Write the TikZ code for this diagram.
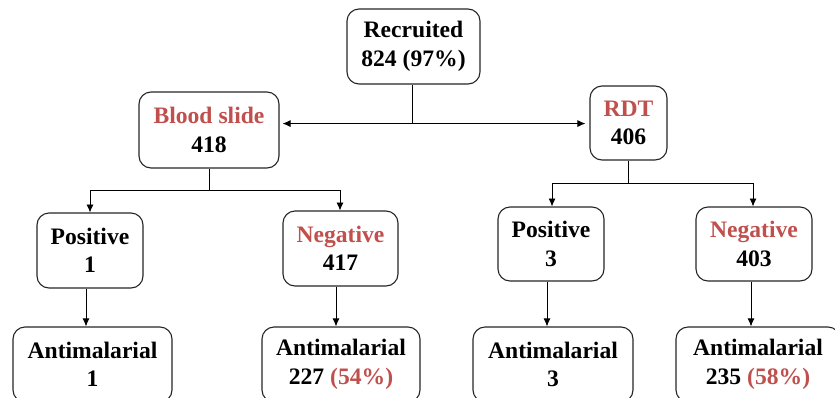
\documentclass[tikz,border=0pt]{standalone}
\usepackage{fontspec}
\setmainfont{Liberation Serif}
\usetikzlibrary{arrows.meta,calc}
\definecolor{accred}{RGB}{192,80,77}
\tikzset{
  box/.style={draw=black!85, line width=1.1pt, rounded corners=12pt, align=center,
    inner sep=0pt, font=\fontsize{23.6}{28.5}\selectfont\bfseries, fill=white},
  conn/.style={draw=black, line width=0.9pt},
  arr/.style={conn, -{Latex[length=8pt,width=7pt]}},
}
\begin{document}
\begin{tikzpicture}[x=1pt,y=-1pt]
\useasboundingbox (0,0) rectangle (835,397);
\clip (0,0) rectangle (835,397);
\node[box, minimum width=133pt, minimum height=75pt] (rec) at (413.5,46.5) {Recruited\\824 (97\%)};
\node[box, minimum width=140pt, minimum height=76pt] (bs) at (209,130) {\textcolor{accred}{Blood slide}\\418};
\node[box, minimum width=77pt, minimum height=74pt] (rdt) at (628.5,123) {\textcolor{accred}{RDT}\\406};
\node[box, minimum width=106pt, minimum height=75pt] (pos1) at (90,250.5) {Positive\\1};
\node[box, minimum width=115pt, minimum height=75pt] (neg1) at (340.5,248.5) {\textcolor{accred}{Negative}\\417};
\node[box, minimum width=106pt, minimum height=74pt] (pos2) at (551,244) {Positive\\3};
\node[box, minimum width=116pt, minimum height=74pt] (neg2) at (754,244) {\textcolor{accred}{Negative}\\403};
\node[box, minimum width=159pt, minimum height=75pt] (am1) at (92.5,364.5) {Antimalarial\\1};
\node[box, minimum width=158pt, minimum height=75pt] (am2) at (341,364.5) {Antimalarial\\227 \textcolor{accred}{(54\%)}};
\node[box, minimum width=160pt, minimum height=75pt] (am3) at (553,364.5) {Antimalarial\\3};
\node[box, minimum width=164pt, minimum height=75pt] (am4) at (758,364.5) {Antimalarial\\235 \textcolor{accred}{(58\%)}};
% top split
\coordinate (j0) at ($(rec.south)+(-1.5,39)$);
\draw[conn] ([xshift=-1.5pt]rec.south) -- (j0);
\draw[arr, shorten >=3pt] (j0) -- (j0 -| bs.east);
\draw[arr, shorten >=4pt] (j0) -- (j0 -| rdt.west);
% blood slide split
\coordinate (j1) at (209,190);
\draw[conn] (bs.south) -- (j1);
\draw[conn] (90,190) -- (340,190);
\draw[arr] (90,190) -- (90,212.5);
\draw[arr] (340,190) -- (340,210.5);
% rdt split
\coordinate (j2) at (628,183);
\draw[conn] (rdt.south -| j2) -- (j2);
\draw[conn] (552,183) -- (753,183);
\draw[arr] (552,183) -- (552,206.5);
\draw[arr] (753,183) -- (753,206.5);
% to antimalarial
\draw[arr] (pos1.south -| 86,0) -- (am1.north -| 86,0);
\draw[arr] (neg1.south -| 336,0) -- (am2.north -| 336,0);
\draw[arr] (pos2.south -| 547,0) -- (am3.north -| 547,0);
\draw[arr] (neg2.south -| 751,0) -- (am4.north -| 751,0);
\end{tikzpicture}
\end{document}
